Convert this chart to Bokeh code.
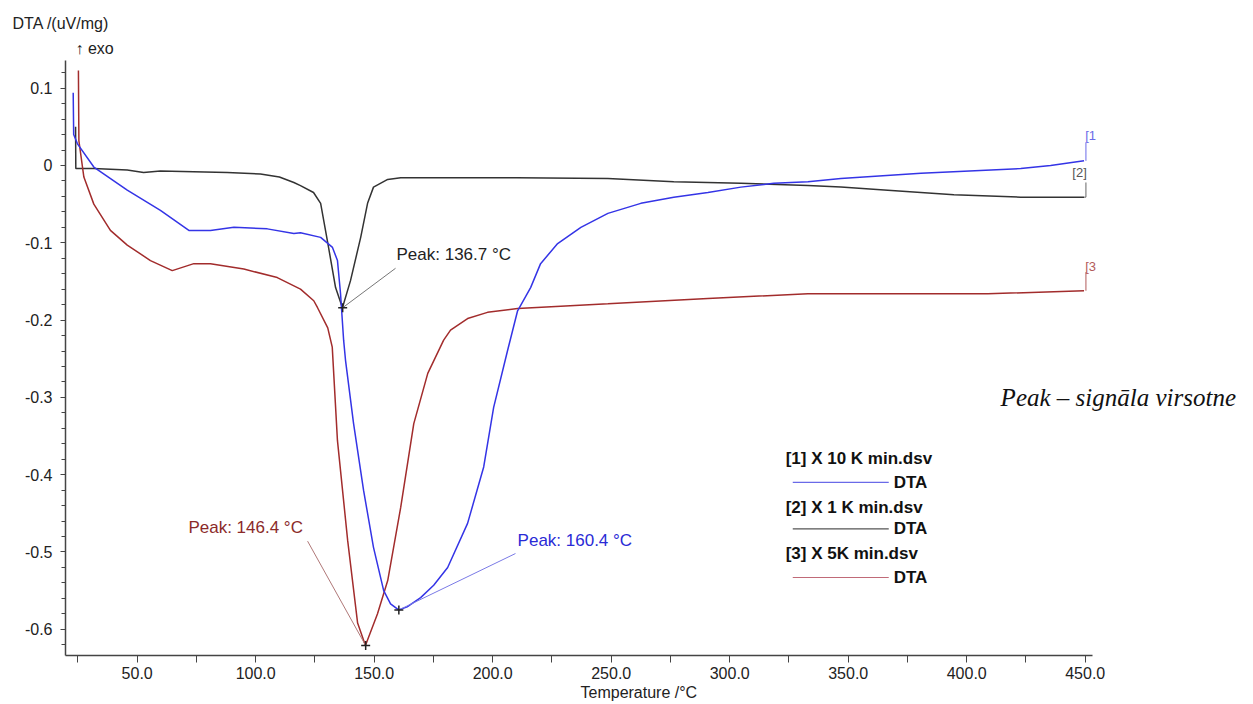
from bokeh.plotting import figure
from bokeh.models import Range1d, FixedTicker, CustomJSTickFormatter, Label, Title
from bokeh.embed import file_html
from bokeh.resources import INLINE
import numpy as np

# ---- data ----
blue_T = [23.0, 23.2, 24.8, 31.7, 45.8, 59.8, 71.8, 80.9, 90.8, 104.9, 116.1, 118.9, 127.4, 132.4,
          134.5, 135.8, 137.1, 137.9, 141.3, 145.5, 149.7, 154.0, 156.9, 160.3, 163.9, 169.6, 175.1, 181.0,
          189.4, 196.2, 200.4, 206.3, 210.5, 216.0, 220.2, 227.4, 237.2, 248.6, 262.5, 276.4, 290.8,
          304.7, 318.6, 333.0, 346.9, 380.7, 422.8, 435.4, 449.5]
blue_v = [0.094, 0.040, 0.028, -0.002, -0.032, -0.058, -0.084, -0.084, -0.080, -0.082, -0.088, -0.087,
          -0.093, -0.106, -0.123, -0.166, -0.226, -0.252, -0.334, -0.420, -0.494, -0.550, -0.567, -0.575,
          -0.571, -0.559, -0.543, -0.520, -0.463, -0.390, -0.313, -0.239, -0.188, -0.158, -0.127, -0.101,
          -0.080, -0.062, -0.049, -0.041, -0.035, -0.028, -0.023, -0.021, -0.017, -0.010, -0.004, 0.000,
          0.006]

black_T = [24.0, 24.1, 31.6, 45.8, 52.7, 59.8, 73.8, 88.0, 102.0, 110.0, 116.1, 118.9, 124.4, 127.4,
           130.4, 133.7, 136.6, 140.0, 144.3, 147.2, 149.7, 155.7, 161.2, 178.0, 210.0, 248.6, 276.4,
           304.7, 333.0, 346.9, 366.7, 394.6, 422.8, 449.5]
black_v = [0.050, -0.004, -0.004, -0.006, -0.009, -0.007, -0.008, -0.009, -0.011, -0.015, -0.022,
           -0.026, -0.035, -0.049, -0.100, -0.158, -0.184, -0.149, -0.093, -0.049, -0.028, -0.018,
           -0.016, -0.016, -0.016, -0.017, -0.021, -0.023, -0.026, -0.028, -0.032, -0.038, -0.041, -0.041]

red_T = [25.2, 25.4, 27.5, 31.7, 38.7, 45.8, 55.6, 64.8, 73.9, 80.9, 95.0, 109.1, 118.9, 124.5, 126.1,
         130.4, 132.3, 134.5, 138.8, 143.0, 146.3, 151.4, 155.7, 161.2, 166.7, 172.6, 179.3, 182.2,
         189.4, 197.8, 210.5, 228.7, 248.6, 290.8, 333.0, 408.9, 449.5]
red_v = [0.123, 0.032, -0.015, -0.050, -0.084, -0.103, -0.123, -0.136, -0.127, -0.127, -0.134, -0.145,
         -0.160, -0.175, -0.184, -0.210, -0.235, -0.356, -0.485, -0.592, -0.621, -0.580, -0.537, -0.442,
         -0.334, -0.269, -0.226, -0.213, -0.198, -0.190, -0.185, -0.182, -0.179, -0.172, -0.166, -0.166,
         -0.162]

peak_T = [136.7, 146.4, 160.4]
peak_v = [-0.184, -0.621, -0.575]
peak_labels = ["Peak: 136.7 °C", "Peak: 146.4 °C", "Peak: 160.4 °C"]

x_ticks = [50, 100, 150, 200, 250, 300, 350, 400, 450]
y_ticks = [0.1, 0.0, -0.1, -0.2, -0.3, -0.4, -0.5, -0.6]

legend_files = ["[1] X 10 K min.dsv", "[2] X 1 K min.dsv", "[3] X 5K min.dsv"]
legend_signal = "DTA"
end_tags = ["[1", "[2]", "[3"]

BLUE = "#3434e6"
BLACK = "#333333"
RED = "#a22c2c"
FONT = "Liberation Sans"

X_MIN, X_AXIS_END, X_MAX = 19.75, 453.1, 521.0
p = figure(width=1253, height=704, x_range=Range1d(X_MIN, X_MAX), y_range=Range1d(-0.6339, 0.1358),
           output_backend="svg", toolbar_location=None, title=None,
           min_border_left=65, min_border_right=0, min_border_top=60, min_border_bottom=49)
p.xgrid.visible = False
p.ygrid.visible = False
p.outline_line_color = None
p.background_fill_color = "white"
p.border_fill_color = "white"

for ax in (p.xaxis[0], p.yaxis[0]):
    ax.axis_line_color = "#444444"
    ax.axis_line_width = 1.5
    ax.major_tick_line_color = "#444444"
    ax.minor_tick_line_color = "#444444"
    ax.major_tick_in = 0
    ax.minor_tick_in = 0
    ax.major_label_text_font = FONT
    ax.major_label_text_font_size = "16px"
    ax.major_label_text_color = "#222222"

p.xaxis.bounds = (X_MIN, X_AXIS_END)
p.xaxis.ticker = FixedTicker(ticks=x_ticks, minor_ticks=[t - 25 for t in x_ticks])
p.xaxis.major_tick_out = 7
p.xaxis.minor_tick_out = 7
p.xaxis.major_label_standoff = 4
p.xaxis.formatter = CustomJSTickFormatter(code="return tick.toFixed(1);")

p.yaxis.ticker = FixedTicker(ticks=y_ticks, minor_ticks=list(np.round(np.arange(-0.62, 0.1301, 0.02), 2)))
p.yaxis.major_tick_out = 5
p.yaxis.minor_tick_out = 4
p.yaxis.major_label_standoff = 8
p.yaxis.formatter = CustomJSTickFormatter(code="return Math.abs(tick) < 1e-9 ? '0' : tick.toFixed(1);")

# titles outside the frame
p.add_layout(Title(text="↑ exo", align="left", offset=10, text_font=FONT, text_font_size="16px",
                   text_font_style="normal", text_color="#222222", standoff=8), "above")
p.add_layout(Title(text="DTA /(uV/mg)", align="left", offset=-53, text_font=FONT, text_font_size="16px",
                   text_font_style="normal", text_color="#222222", standoff=3), "above")
p.add_layout(Title(text="Temperature /°C", align="left", offset=515, text_font=FONT, text_font_size="16px",
                   text_font_style="normal", text_color="#222222", standoff=0), "below")

# curves
p.line(black_T, black_v, line_color=BLACK, line_width=1.5)
p.line(red_T, red_v, line_color=RED, line_width=1.5)
p.line(blue_T, blue_v, line_color=BLUE, line_width=1.5)

# peak leader lines
p.segment(x0=[159.0, 121.9, 209.6], y0=[-0.133, -0.486, -0.502], x1=peak_T, y1=peak_v,
          line_color=["#777777", "#b07878", "#7a7ae6"], line_width=1)
p.scatter(peak_T, peak_v, marker="cross", size=9, line_color="#222222", line_width=1.5)

peak_pos = [(159.4, -0.115, "#222222"), (71.6, -0.468, "#8b2a2a"), (210.5, -0.485, "#2a2ad6")]
for (x, y, c), t in zip(peak_pos, peak_labels):
    p.add_layout(Label(x=x, y=y, text=t, text_font=FONT, text_font_size="17px", text_color=c,
                       text_baseline="middle", text_align="left"))

# curve-end brackets
p.segment(x0=[450.3, 450.3, 450.3], y0=[0.006, -0.041, -0.162], x1=[450.3, 450.3, 450.3],
          y1=[0.030, -0.022, -0.138], line_color=["#6a6ae8", "#666666", "#b25a5a"], line_width=1)
p.segment(x0=[449.5], y0=[-0.041], x1=[450.3], y1=[-0.041], line_color="#666666", line_width=1)
tag_pos = [(450.0, 0.039, "#6a6ae8"), (447.6, -0.009, "#555555"), (450.0, -0.131, "#b25a5a")]
for (x, y, c), t in zip(tag_pos, end_tags):
    p.add_layout(Label(x=x, y=y, text=t, text_font=FONT, text_font_size="13px", text_color=c,
                       text_baseline="middle", text_align="left" if t != "[2]" else "center"))

# legend (drawn by hand)
leg_file_y = [-0.379, -0.442, -0.502]
leg_line_y = [-0.410, -0.470, -0.533]
leg_cols = ["#6a6ae8", "#555555", "#c06a78"]
for fy, ly, c, t in zip(leg_file_y, leg_line_y, leg_cols, legend_files):
    p.add_layout(Label(x=323.6, y=fy, text=t, text_font=FONT, text_font_size="17px",
                       text_font_style="bold", text_color="#111111", text_baseline="middle"))
    p.segment(x0=[326.6], y0=[ly], x1=[367.1], y1=[ly], line_color=c, line_width=1.2)
    p.add_layout(Label(x=369.2, y=ly, text=legend_signal, text_font=FONT, text_font_size="17px",
                       text_font_style="bold", text_color="#111111", text_baseline="middle"))

# side note
p.add_layout(Label(x=414.3, y=-0.300, text="Peak – signāla virsotne", text_font="Liberation Serif",
                   text_font_size="25px", text_font_style="italic", text_color="#111111",
                   text_baseline="middle"))

open("out.html", "w").write(file_html(p, INLINE))
